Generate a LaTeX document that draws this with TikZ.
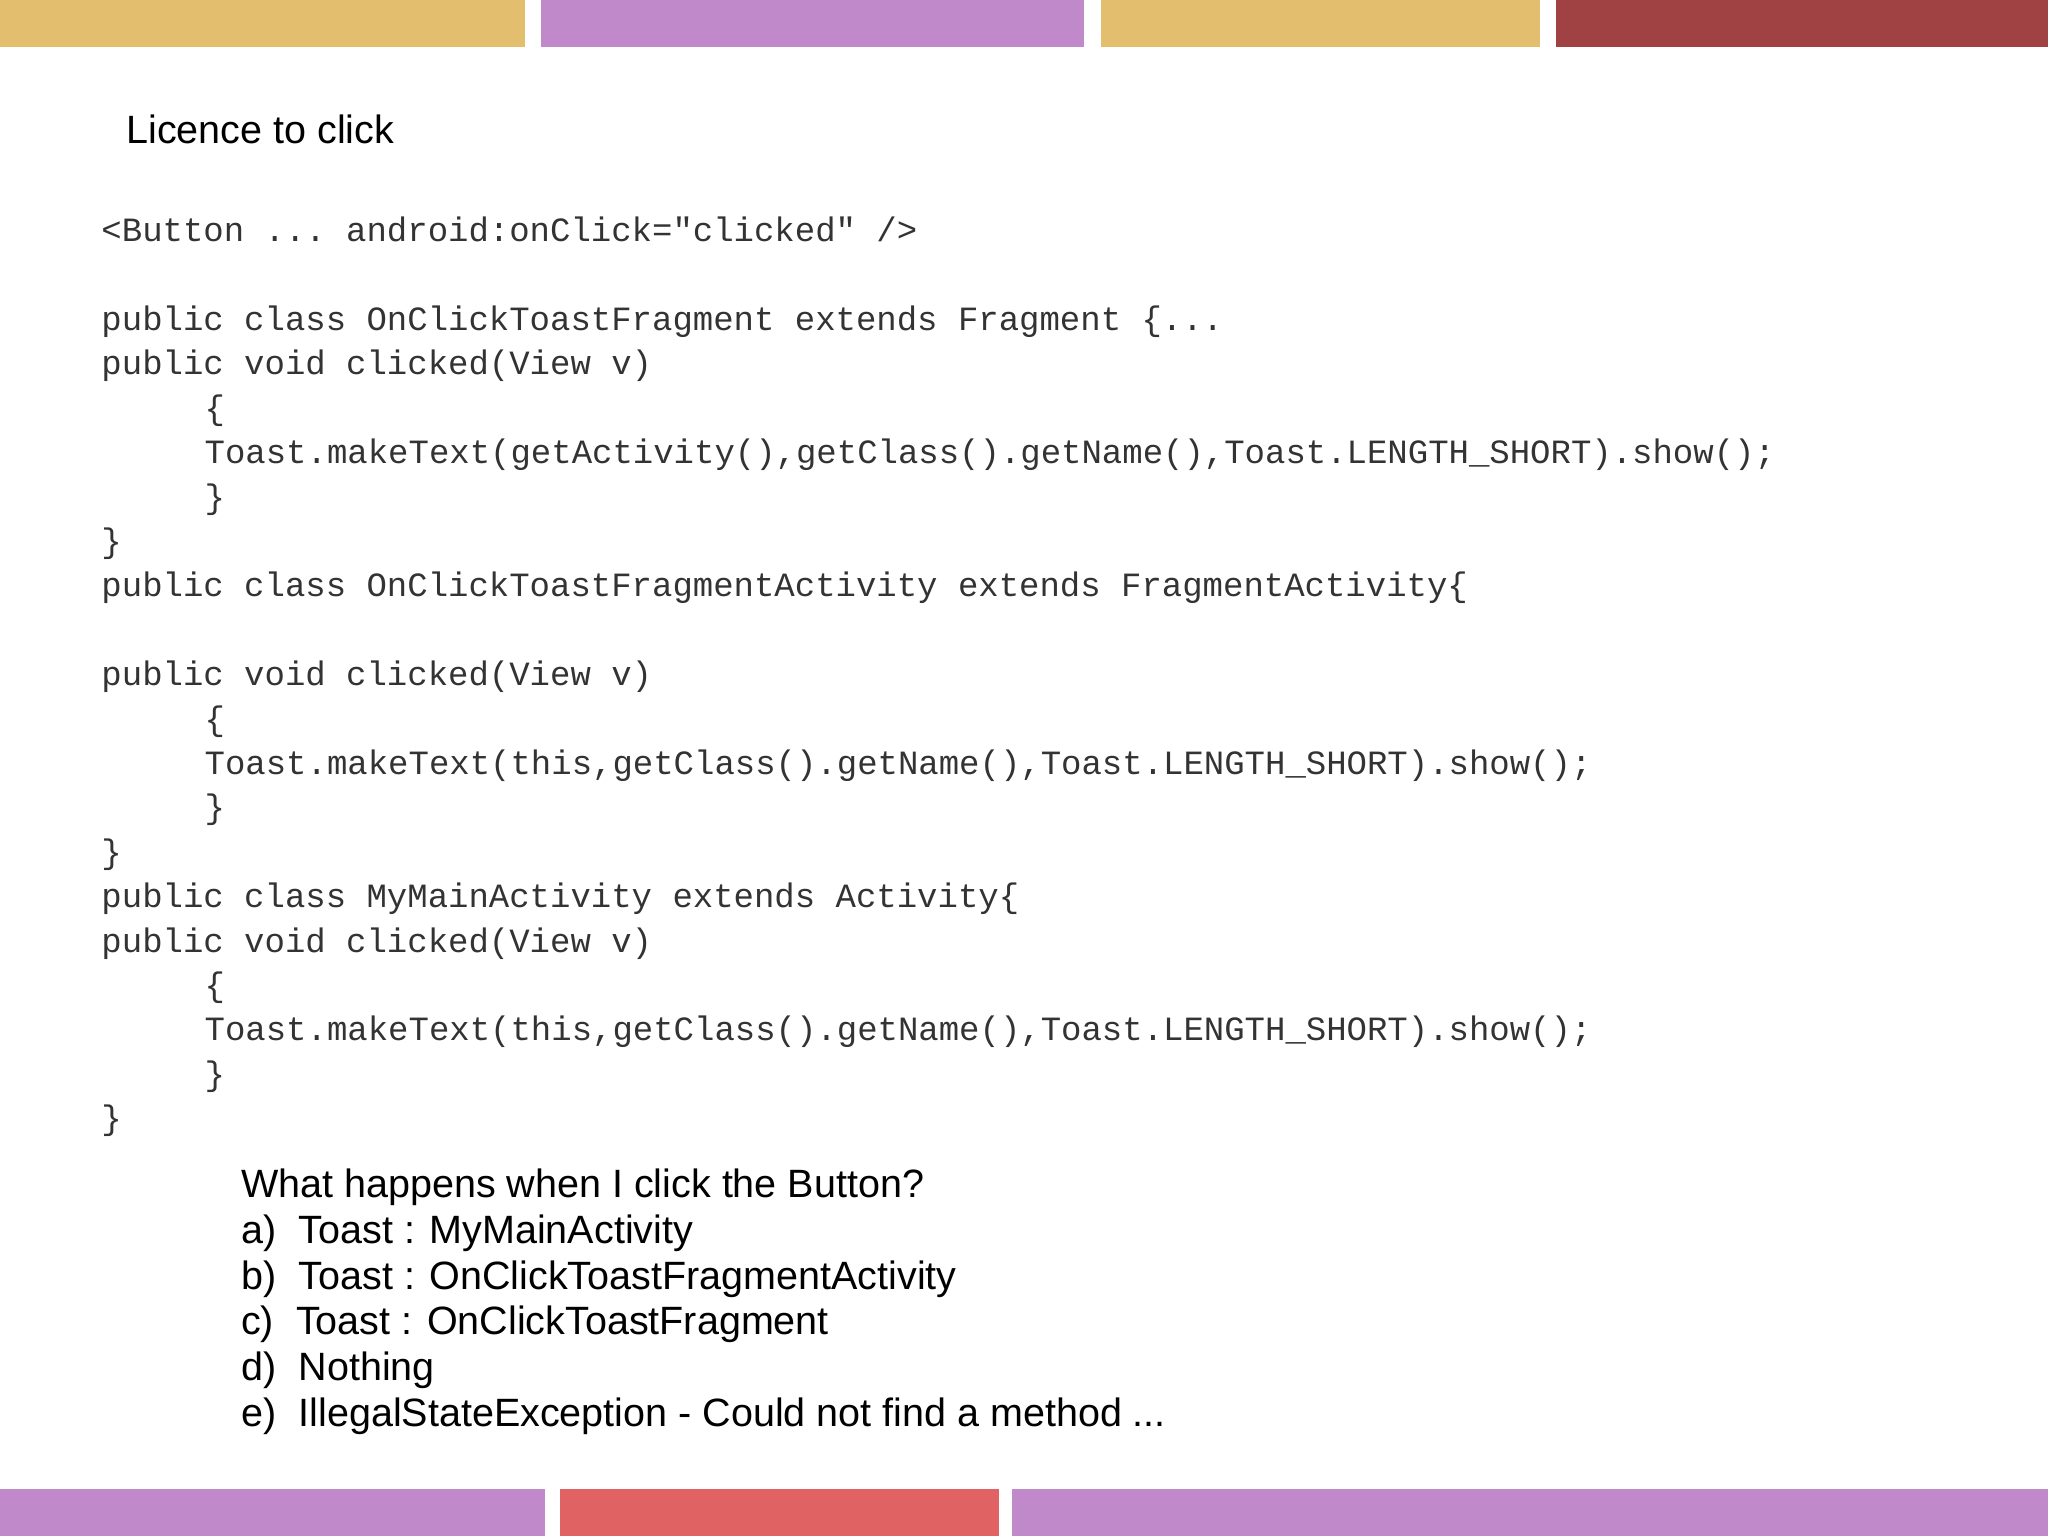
\documentclass[tikz,border=0pt]{standalone}
\usepackage{fontspec}
\setmainfont{Liberation Sans}
\setmonofont{Liberation Mono}
\definecolor{gold}{HTML}{E3BE6E}
\definecolor{purp}{HTML}{C08ACA}
\definecolor{dred}{HTML}{A04244}
\definecolor{lred}{HTML}{E06262}
\definecolor{codec}{HTML}{333333}
\begin{document}
\begin{tikzpicture}[x=0.01cm,y=-0.01cm,
  code/.style={anchor=base west,inner sep=0pt,font=\ttfamily\fontsize{7.4pt}{8pt}\selectfont,text=codec},
  q/.style={anchor=base west,inner sep=0pt,font=\fontsize{8.6pt}{10pt}\selectfont}]
\useasboundingbox (0,0) rectangle (1568,1176);
\fill[gold] (0,0) rectangle (402,36);
\fill[purp] (414,0) rectangle (830,36);
\fill[gold] (843,0) rectangle (1179,36);
\fill[dred] (1191,0) rectangle (1568,36);
\fill[purp] (0,1140) rectangle (417,1176);
\fill[lred] (429,1140) rectangle (765,1176);
\fill[purp] (775,1140) rectangle (1568,1176);
\node[q] (title) at (96,110) {Licence to click};
\node[code] (c1) at (77,185) {<Button ... android:onClick="clicked" />};
\node[code] (c2) at (77,253) {public class OnClickToastFragment extends Fragment \{...};
\node[code] (c3) at (77,287) {public void clicked(View v)};
\node[code] (c4) at (156,321) {\{};
\node[code] (c5) at (156,355) {Toast.makeText(getActivity(),getClass().getName(),Toast.LENGTH\_SHORT).show();};
\node[code] (c6) at (156,389) {\}};
\node[code] (c7) at (77,423) {\}};
\node[code] (c8) at (77,457) {public class OnClickToastFragmentActivity extends FragmentActivity\{};
\node[code] (c9) at (77,525) {public void clicked(View v)};
\node[code] (c10) at (156,559) {\{};
\node[code] (c11) at (156,593) {Toast.makeText(this,getClass().getName(),Toast.LENGTH\_SHORT).show();};
\node[code] (c12) at (156,627) {\}};
\node[code] (c13) at (77,661) {\}};
\node[code] (c14) at (77,695) {public class MyMainActivity extends Activity\{};
\node[code] (c15) at (77,729) {public void clicked(View v)};
\node[code] (c16) at (156,763) {\{};
\node[code] (c17) at (156,797) {Toast.makeText(this,getClass().getName(),Toast.LENGTH\_SHORT).show();};
\node[code] (c18) at (156,831) {\}};
\node[code] (c19) at (77,865) {\}};
\node[q] (q0) at (184,917) {What happens when I click the Button?};
\node[q] (qa) at (184,952) {a)};
\node[q] (ta) at (228,952) {Toast : MyMainActivity};
\node[q] (qb) at (184,987) {b)};
\node[q] (tb) at (228,987) {Toast : OnClickToastFragmentActivity};
\node[q] (qc) at (184,1022) {c)};
\node[q] (tc) at (226,1022) {Toast : OnClickToastFragment};
\node[q] (qd) at (184,1057) {d)};
\node[q] (td) at (228,1057) {Nothing};
\node[q] (qe) at (184,1092) {e)};
\node[q] (te) at (228,1092) {IllegalStateException - Could not find a method ...};
\end{tikzpicture}
\end{document}
